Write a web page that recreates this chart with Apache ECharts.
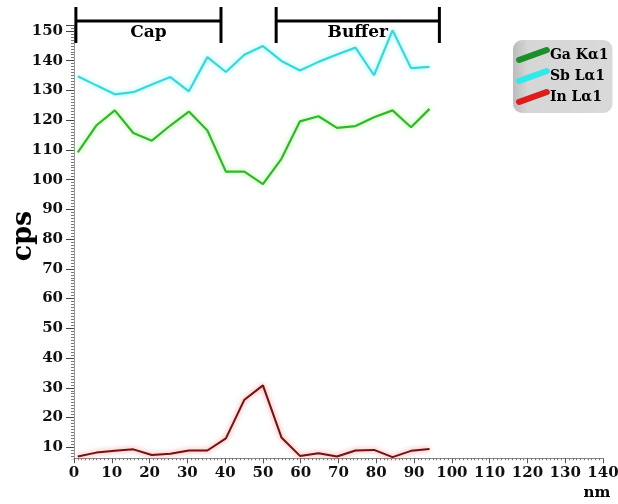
<!DOCTYPE html>
<html>
<head>
<meta charset="utf-8">
<script src="https://cdn.jsdelivr.net/npm/echarts@6/dist/echarts.min.js"></script>
<style>
  html, body { margin: 0; padding: 0; background: #fff; }
  #chart { width: 618px; height: 504px; }
</style>
</head>
<body>
<div id="chart"></div>
<script>
// depth positions (nm) of the scan points
const depth = [1, 5.9, 10.8, 15.7, 20.6, 25.5, 30.4, 35.3, 40.2, 45.1, 50, 54.9, 59.8, 64.7, 69.6, 74.5, 79.4, 84.3, 89.2, 94.1];

// counts per second for each line
const gaKa = [109.2, 118.2, 123.3, 115.7, 113.1, 118.2, 122.9, 116.5, 102.7, 102.7, 98.5, 107, 119.6, 121.3, 117.4, 118, 121, 123.3, 117.6, 123.8];
const sbLa = [134.8, 131.7, 128.7, 129.4, 132, 134.5, 129.7, 141.2, 136.2, 142, 144.9, 139.9, 136.7, 139.6, 142.1, 144.4, 135.1, 150.2, 137.5, 137.9];
const inLa = [6.9, 8.2, 8.8, 9.3, 7.4, 7.8, 8.9, 8.9, 13, 26, 30.8, 13.3, 7.1, 8, 6.9, 8.9, 9.1, 6.7, 8.8, 9.4];

// layer ranges marked above the plot
const regions = [
    { name: 'Cap', from: 0.5, to: 38.9 },
    { name: 'Buffer', from: 53.5, to: 96.7 }
];

// the x axis crosses the y axis here, not at 0
const xCross = 6.3;

const FONT = 'DejaVu Serif';
const pair = arr => arr.map((v, i) => [depth[i], v]);

const chart = echarts.init(document.getElementById('chart'));

const option = {
    backgroundColor: '#fff',
    animation: false,
    grid: { left: 74, right: 15, top: 25, bottom: 27, containLabel: false, outerBoundsMode: 'none' },
    legend: {
        orient: 'vertical',
        left: 513,
        top: 40,
        padding: [7, 4, 8, 3],
        itemGap: 5,
        itemWidth: 34,
        itemHeight: 16,
        borderRadius: 9,
        backgroundColor: new echarts.graphic.LinearGradient(0, 0, 1, 0, [
            { offset: 0, color: '#bcbcbc' },
            { offset: 0.15, color: '#d6d6d6' },
            { offset: 1, color: '#d9d9d9' }
        ]),
        icon: 'path://M4,15.8 L32,5.8 A3,3 0 0 0 30,0.2 L2,10.2 A3,3 0 0 0 4,15.8 Z',
        textStyle: { fontFamily: FONT, fontWeight: 'bold', fontSize: 14, color: '#000', padding: [0, 0, 0, -5] },
        data: [
            { name: 'Ga Kα1', itemStyle: { color: '#1c8f2c' } },
            { name: 'Sb Lα1', itemStyle: { color: '#33e8e8' } },
            { name: 'In Lα1', itemStyle: { color: '#dd1c1c' } }
        ]
    },
    xAxis: {
        type: 'value',
        min: 0,
        max: 140,
        interval: 10,
        z: 3,
        axisLine: { show: true, onZero: false, lineStyle: { color: '#888', width: 1 } },
        axisTick: { show: true, length: 5, lineStyle: { color: '#555' } },
        minorTick: { show: true, splitNumber: 10, length: 2, lineStyle: { color: '#777' } },
        splitLine: { show: false },
        axisLabel: { fontFamily: FONT, fontWeight: 'bold', fontSize: 15, color: '#111', margin: 7 }
    },
    yAxis: {
        type: 'value',
        min: 0,
        max: 152,
        interval: 10,
        z: 0,
        axisLine: { show: true, lineStyle: { color: '#999', width: 1 } },
        axisTick: { show: true, length: 8, lineStyle: { color: '#444', width: 1 } },
        minorTick: { show: true, splitNumber: 10, length: 3, lineStyle: { color: '#777' } },
        splitLine: { show: false },
        axisLabel: {
            fontFamily: FONT, fontWeight: 'bold', fontSize: 15, color: '#111', margin: 11,
            formatter: v => (v === 0 ? '' : String(v))
        }
    },
    series: [{
        name: 'Sb Lα1',
        type: 'line',
        data: pair(sbLa),
        symbol: 'none',
        lineStyle: { color: '#3cd5d8', width: 2.2, shadowBlur: 5, shadowColor: 'rgba(120,255,255,0.9)' },
        itemStyle: { color: '#3cd5d8' }
    }, {
        name: 'Ga Kα1',
        type: 'line',
        data: pair(gaKa),
        symbol: 'none',
        lineStyle: { color: '#33b52f', width: 2.2, shadowBlur: 5, shadowColor: 'rgba(150,255,120,0.9)' },
        itemStyle: { color: '#33b52f' }
    }, {
        name: 'In Lα1',
        type: 'line',
        data: pair(inLa),
        symbol: 'none',
        lineStyle: { color: '#6e1414', width: 2, shadowBlur: 5, shadowColor: 'rgba(255,110,110,0.9)' },
        itemStyle: { color: '#6e1414' }
    }]
};

chart.setOption(option);

// lift the x axis to the crossing value
const yCross = chart.convertToPixel({ yAxisIndex: 0 }, xCross);
const yZero = chart.convertToPixel({ yAxisIndex: 0 }, 0);
chart.setOption({ xAxis: { offset: -(yZero - yCross) } });

const topY = 21;
const elements = [];
// hide the stub of the y axis below the crossing
elements.push({
    type: 'rect', z: 1,
    shape: { x: 50, y: yCross + 1, width: 25, height: yZero - yCross + 6 },
    style: { fill: '#fff' }
});
// brackets over the layers, placed through the axis scale
regions.forEach(r => {
    const x0 = chart.convertToPixel({ xAxisIndex: 0 }, r.from);
    const x1 = chart.convertToPixel({ xAxisIndex: 0 }, r.to);
    const st = { stroke: '#000', lineWidth: 3 };
    elements.push({ type: 'line', shape: { x1: x0, y1: topY, x2: x1, y2: topY }, style: st, z: 100 });
    elements.push({ type: 'line', shape: { x1: x0, y1: 7, x2: x0, y2: 43 }, style: st, z: 100 });
    elements.push({ type: 'line', shape: { x1: x1, y1: 7, x2: x1, y2: 43 }, style: st, z: 100 });
    elements.push({
        type: 'text', x: (x0 + x1) / 2, y: 33, z: 100,
        style: { text: r.name, font: 'bold 17px "DejaVu Serif"', fill: '#000', align: 'center', verticalAlign: 'middle' }
    });
});
// axis titles
elements.push({
    type: 'text', x: 24, y: 236, rotation: Math.PI / 2, z: 100,
    style: { text: 'cps', font: 'bold 27px "DejaVu Serif"', fill: '#000', align: 'center', verticalAlign: 'middle' }
});
elements.push({
    type: 'text', x: 597, y: 493, z: 100,
    style: { text: 'nm', font: 'bold 15px "DejaVu Serif"', fill: '#000', align: 'center', verticalAlign: 'middle' }
});
chart.setOption({ graphic: elements });
</script>
</body>
</html>
